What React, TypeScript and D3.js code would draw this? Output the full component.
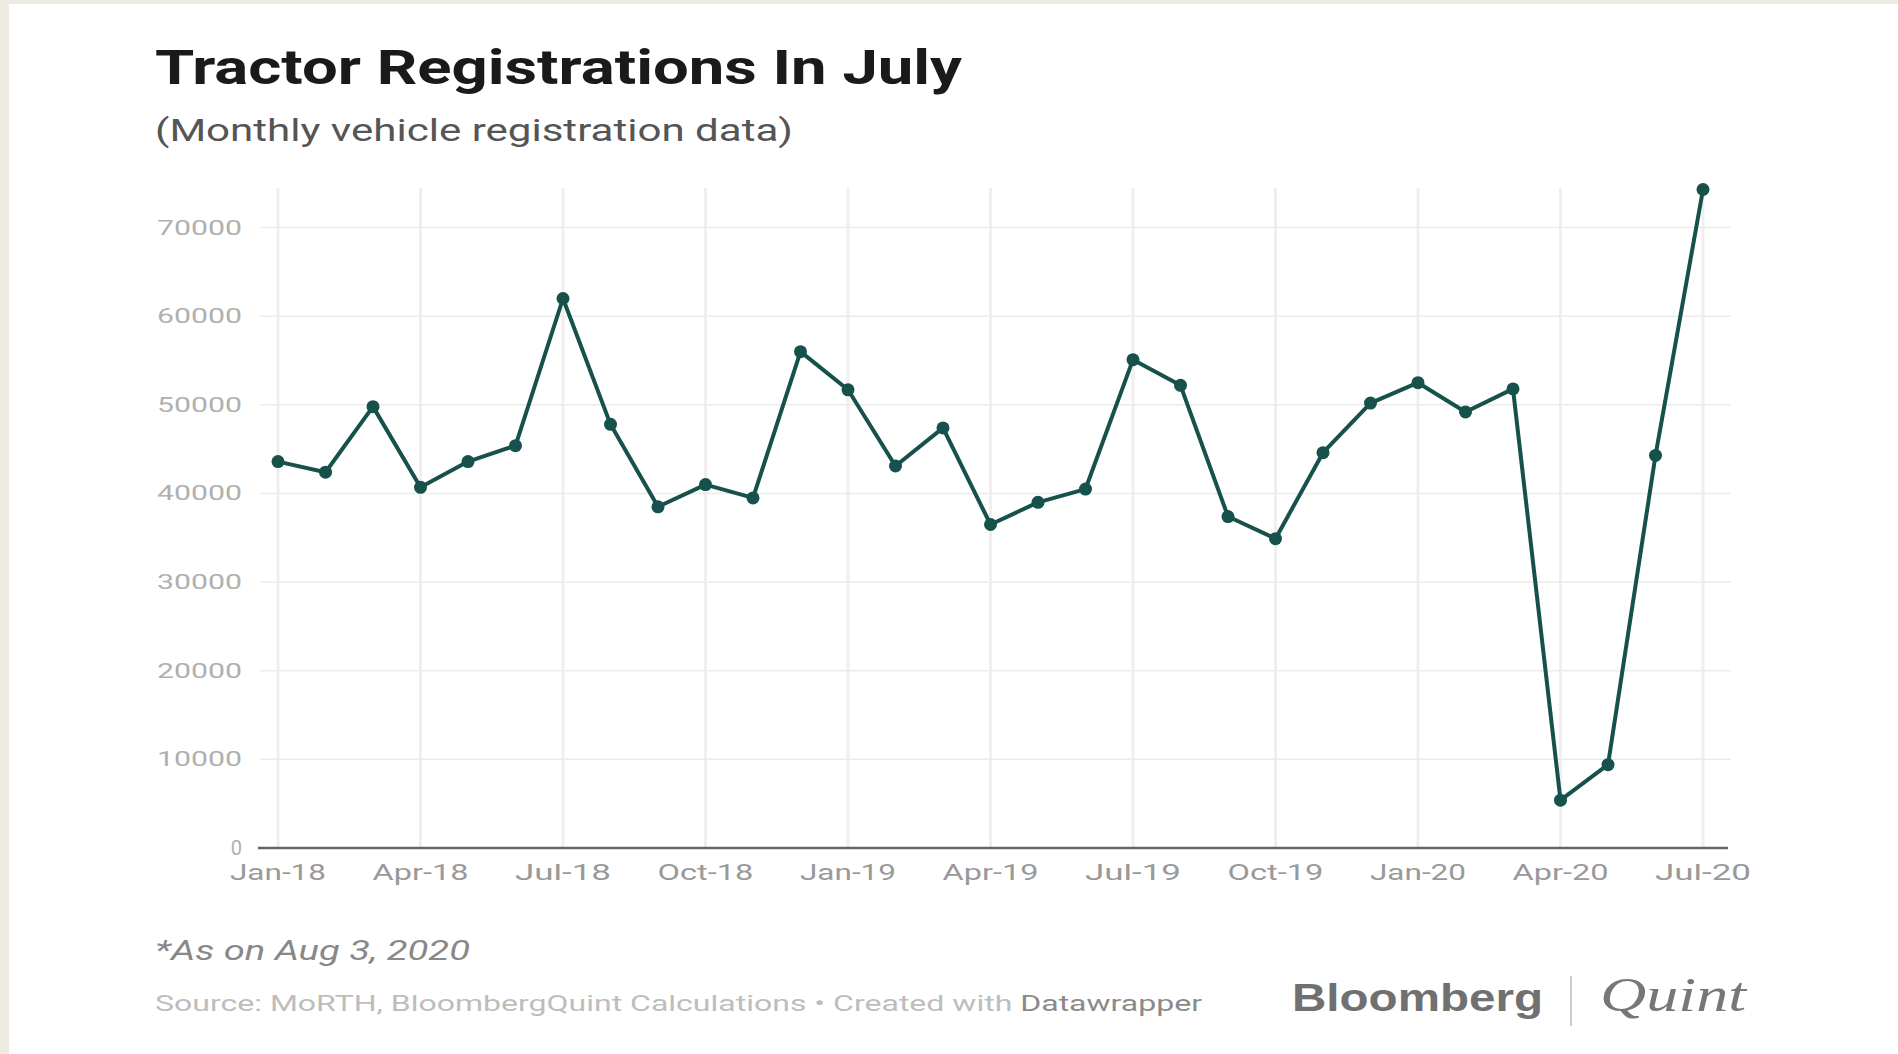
import React from "react";
import * as d3 from "d3";

const monthLabels = [
  "Jan-18","Feb-18","Mar-18","Apr-18","May-18","Jun-18","Jul-18","Aug-18","Sep-18","Oct-18","Nov-18","Dec-18",
  "Jan-19","Feb-19","Mar-19","Apr-19","May-19","Jun-19","Jul-19","Aug-19","Sep-19","Oct-19","Nov-19","Dec-19",
  "Jan-20","Feb-20","Mar-20","Apr-20","May-20","Jun-20","Jul-20",
];
const registrations = [
  43600, 42400, 49800, 40700, 43600, 45400, 62000, 47800, 38500, 41000, 39500, 56000,
  51700, 43100, 47400, 36500, 39000, 40500, 55100, 52200, 37400, 34900, 44600, 50200,
  52500, 49200, 51800, 5400, 9400, 44300, 74300,
];
const xTickLabels = ["Jan-18","Apr-18","Jul-18","Oct-18","Jan-19","Apr-19","Jul-19","Oct-19","Jan-20","Apr-20","Jul-20"];
const yTicks = [0, 10000, 20000, 30000, 40000, 50000, 60000, 70000];

const title = "Tractor Registrations In July";
const subtitle = "(Monthly vehicle registration data)";
const footnote = "*As on Aug 3, 2020";
const sourceText = "Source: MoRTH, BloombergQuint Calculations • Created with ";
const sourceTool = "Datawrapper";

export default function App() {
  const W = 1898, H = 1054;
  const x = d3.scaleLinear().domain([0, monthLabels.length - 1]).range([278, 1703]);
  const y = d3.scaleLinear().domain([0, 70000]).range([848, 227.6]);
  const line = d3.line<number>().x((_, i) => x(i)).y((d) => y(d));
  const lineColor = "#17514c";
  const font = "Roboto, 'Noto Sans', sans-serif";

  return (
    <svg width={W} height={H} style={{ position: "absolute", left: 0, top: 0 }}>
      <rect x={0} y={0} width={W} height={H} fill="#eeebe2" />
      <rect x={9} y={4} width={W - 9} height={H - 4} fill="#ffffff" />

      <text x={155} y={84} fontFamily={font} fontWeight={700} fontSize={49} fill="#1a1a1a"
        textLength={807} lengthAdjust="spacingAndGlyphs">{title}</text>
      <text x={155} y={141} fontFamily={font} fontSize={31} fill="#555"
        textLength={638} lengthAdjust="spacingAndGlyphs">{subtitle}</text>

      {/* vertical gridlines */}
      {xTickLabels.map((lab) => {
        const i = monthLabels.indexOf(lab);
        return <line key={"v" + lab} x1={x(i)} x2={x(i)} y1={188} y2={848} stroke="#efefef" strokeWidth={3} />;
      })}
      {/* horizontal gridlines */}
      {yTicks.filter((t) => t > 0).map((t) => (
        <line key={"h" + t} x1={260} x2={1731} y1={y(t)} y2={y(t)} stroke="#ebebeb" strokeWidth={1.5} />
      ))}
      {/* baseline */}
      <line x1={258} x2={1728} y1={y(0)} y2={y(0)} stroke="#666" strokeWidth={2.5} />

      {/* y labels */}
      {yTicks.map((t) => (
        <text key={"yl" + t} x={242} y={y(t) + 7} textAnchor="end" fontFamily={font} fontSize={20} fill="#b0b0b0"
          {...(t > 0 ? { textLength: 85, lengthAdjust: "spacingAndGlyphs" } : {})}>{t}</text>
      ))}
      {/* x labels */}
      {xTickLabels.map((lab) => {
        const i = monthLabels.indexOf(lab);
        return (
          <text key={"xl" + lab} x={x(i) - 48} y={880} fontFamily={font} fontSize={22} fill="#999"
            textLength={96} lengthAdjust="spacingAndGlyphs">{lab}</text>
        );
      })}

      <path d={line(registrations) || ""} fill="none" stroke={lineColor} strokeWidth={4} strokeLinejoin="round" />
      {registrations.map((v, i) => (
        <circle key={"c" + i} cx={x(i)} cy={y(v)} r={6.5} fill={lineColor} />
      ))}

      <text x={155} y={960} fontFamily={font} fontStyle="italic" fontSize={27} fill="#888"
        textLength={315} lengthAdjust="spacingAndGlyphs">{footnote}</text>
      <text x={155} y={1011} fontFamily={font} fontSize={22} fill="#bdbdbd"
        textLength={1047} lengthAdjust="spacingAndGlyphs">
        {sourceText}<tspan fill="#8a8a8a">{sourceTool}</tspan>
      </text>

      <text x={1292} y={1011} fontFamily="'Liberation Sans', Arial, sans-serif" fontWeight={700} fontSize={38} fill="#707070"
        textLength={251} lengthAdjust="spacingAndGlyphs">Bloomberg</text>
      <line x1={1571} x2={1571} y1={976} y2={1026} stroke="#bbb" strokeWidth={1.5} />
      <text x={1600} y={1011} fontFamily="'Liberation Serif', 'DejaVu Serif', serif" fontStyle="italic" fontSize={48} fill="#777"
        textLength={146} lengthAdjust="spacingAndGlyphs">Quint</text>
    </svg>
  );
}
